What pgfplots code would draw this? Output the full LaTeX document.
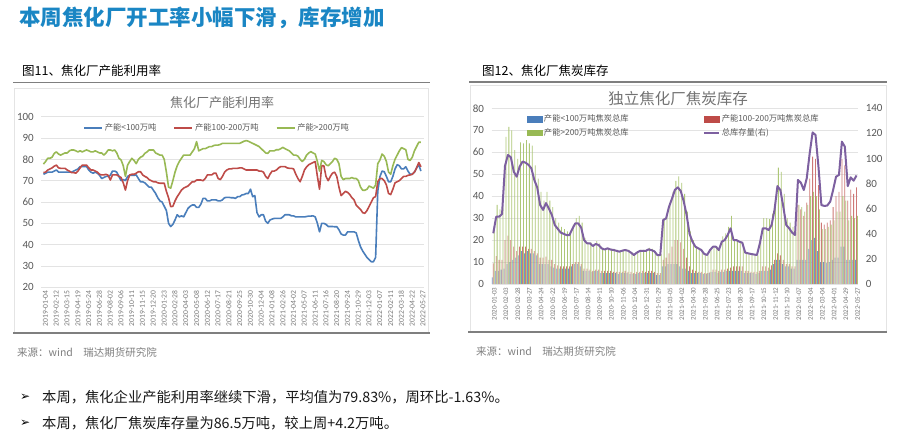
\documentclass[border=0pt]{standalone}
\usepackage{fontspec}
\usepackage{pgfplots}
\usepackage{pgfplotstable}
\pgfplotsset{compat=1.18}
\setmainfont{Carlito}
\newfontfamily\cjk{Noto Sans CJK SC}
\newfontfamily\dejavu{DejaVu Sans}
\definecolor{titleblue}{HTML}{1A86C4}
\definecolor{blueL}{HTML}{4A7EBB}
\definecolor{redL}{HTML}{BE4B48}
\definecolor{greenL}{HTML}{98B954}
\definecolor{purpleL}{HTML}{7D60A0}
\definecolor{gridc}{HTML}{E3E3E3}
\definecolor{labc}{HTML}{595959}
\definecolor{framec}{HTML}{E4E4E4}
\definecolor{rulec}{HTML}{7F7F7F}

\pgfplotstableread{
i b r g
0 73 73.8 77.8
1 73.5 74 79
2 74 75 80.5
3 74 75.5 80.5
4 74 76 81
5 74.5 76.8 82.8
6 75 77.3 83.5
7 74 76 82.5
8 74 75.8 82
9 74 75.8 82.5
10 74 75.8 83
11 74 75 83
12 74 74.5 84
13 74 73.8 84.4
14 74.5 73.8 84.4
15 75 73.5 84
16 75.5 74.5 83.5
17 76.6 76 84
18 76.6 77.3 83.5
19 76.6 77.3 84
20 76.6 77.3 84.4
21 75 76 84
22 74 75 83.5
23 73.5 75 83.5
24 74 74.5 84
25 73.5 74 83.5
26 72.5 73 83
27 71 72.7 83
28 71.5 72.7 82
29 72 73 83
30 72 72.5 84.4
31 72.5 70.3 84.4
32 74.5 72.7 84
33 74.5 72.7 84.4
34 74 72.7 83
35 72 72 80.5
36 70 71.5 79.7
37 70.5 69 77
38 70 65.6 72
39 72 70 77.3
40 72.5 72.7 79
41 72.5 73 80.5
42 72.5 73 79.5
43 72.7 73.5 78
44 71 74.2 80
45 69.5 74.2 81
46 69.5 72.7 81.5
47 69 72 82.8
48 68 71.5 83.5
49 67 70.5 84.4
50 67 70 84.4
51 65.5 69.5 84.4
52 64 69.5 83
53 62 69 82.5
54 60.5 68.8 82
55 60 68.8 82
56 58 68.8 80
57 56 65 74
58 50 62 67
59 48.5 57.8 66.5
60 49.5 58 70
61 51.6 60.5 74
62 54 62.5 77
63 53 64 79
64 53.5 65.6 80.5
65 53 66.5 82
66 55 67 82
67 57 67.5 82
68 58 68.5 82
69 58.6 69.5 83.5
70 58.6 69.5 85
71 57.5 70.3 88.3
72 57.5 70.3 84
73 59 70.3 84.5
74 61.7 70 85
75 61.7 71 85
76 60.5 72.7 85.5
77 60.5 72.7 86
78 61 72.7 86
79 61 73.5 86.5
80 61 73.5 86.7
81 60.5 71 86.7
82 60.5 70.5 87
83 61 72 87.5
84 62 74 87.5
85 62.2 75 87.5
86 62.2 75.5 87.5
87 62 75.5 87.5
88 62 75.8 87.5
89 61.7 75.8 87.5
90 62.5 75.8 87.5
91 62.5 76 87.5
92 63.3 76 88
93 63.5 75.5 88.5
94 64 75 88.8
95 64 75 88.5
96 66 75 88
97 62.5 75 87.5
98 63 75 87
99 55 75 86.5
100 53 74.5 86
101 54 74.5 85
102 54 74 84
103 51 72 83
104 50 71 82.8
105 51.5 73 84
106 52 74.5 84
107 52.3 74.5 84
108 52.3 75 84.5
109 52.3 76 84.5
110 52.3 76.6 85
111 53 76.6 85.6
112 54 76.6 85
113 54 76 84.5
114 54 75.8 84
115 53.5 75.8 83
116 53.5 75.5 82
117 53 73 82
118 53 71 81.5
119 53 69.5 80
120 53 72 79
121 53 75 80
122 53.2 76.5 82
123 53.4 77.5 83
124 53.4 78 83.6
125 53.5 78.5 83
126 53 79 82.5
127 50 72 79
128 46 66 74.5
129 50 77 79.5
130 50 77 79
131 49.5 72 77.5
132 48.5 70 77
133 48.5 72 78
134 48.5 73.5 79
135 48.4 74 80.5
136 48.4 72 80
137 47 67 78
138 45 63 72
139 44.5 64 70.5
140 44.5 65 71
141 46 64.5 71
142 46 63.5 71
143 46 62 71.5
144 46 61 71
145 45.5 58.5 71
146 42 57.5 70
147 39 56.5 67
148 37 55 65.5
149 35.5 54.7 65.5
150 34 56 66
151 33 58 67.5
152 32 60 67
153 32 62 66.5
154 34 62.5 68
155 65 69.5 78
156 71.9 71 79.7
157 74.5 71 82.5
158 74.2 70 81.5
159 72 68 79
160 69.5 64 74
161 69.5 63.5 73
162 72 66 77
163 75.5 69 80
164 77.5 69.5 82
165 77 70 84
166 75.5 71 85.5
167 75.5 72 85
168 76.5 72 84.5
169 74.5 72.5 80
170 73 72.7 79.5
171 73 73 81
172 74 74 84
173 76 76 86
174 77.5 78.5 88
175 74.5 76.5 88
}\lefttab

\pgfplotstableread{
i b r g t
0 3 9.4 24.6 40.4
1 6 12.7 36 53.6
2 6 11 34 53.6
3 6.5 11 35 55.8
4 7 20 67 94
5 9 22 71.5 102.8
6 10 20 70 101
7 11 17 61 89.5
8 12 15 57 85.5
9 13 17 64.5 93.5
10 15 17 64 97.5
11 14 17 65.5 96.7
12 15 16 64 95
13 14 16 63 92.2
14 14 15 54 82.9
15 13 14 48 77
16 9 12 42 63
17 9 12 38 59
18 9 12.5 42 64.5
19 9 11 38 60
20 8 11 35 55
21 7.5 9 30 47
22 7 8.5 28 44
23 7 8 26 41
24 7 8 25 40
25 7 8 24 39
26 7 8 23.5 39
27 8 9 27 44
28 9 10 30 48.3
29 9 10 31 48.3
30 8 9 28 45
31 6 7 21 35
32 6 7 19 32.4
33 6 6.5 19 32.4
34 5.5 6 18 30.3
35 6 6.5 19.5 31.9
36 6 6.5 18.5 31
37 5 6 16.5 28.4
38 5 6 16 27.5
39 5 6 16.5 28.4
40 5 6 16 27.5
41 5 5.5 16 27.1
42 5 5.5 15.5 26.5
43 4.5 5.5 15 25.8
44 5 5.5 15.5 26.5
45 5 6 16 27.1
46 5 5.5 15.5 26.5
47 4.5 5.5 14.5 25
48 4.5 5 13.5 23.1
49 4.5 5.5 14.5 25
50 5 5.5 15.5 26.3
51 5 6 15.5 26.3
52 5 5.5 15.5 26.3
53 5 6 16.5 27.6
54 5 6 16 27
55 5 5.5 15 26
56 4 5 13.5 23.1
57 4 5 13.5 23.1
58 8 11 30 51
59 8 12 31 52.3
60 9 14 37 61.6
61 9 17 42 68
62 9 20 47 75
63 9 20 49 77
64 8 19 46 74
65 7 16 41 66
66 7 12 33 55
67 6 8 24 40
68 5 6.5 20 33.7
69 5 6 17 29.7
70 5 5.5 16 28.4
71 5 5.5 15.5 27.1
72 4.5 5 13.5 24
73 4.5 5 13 23.1
74 5 5.5 15.5 27.1
75 5.5 6.5 17 29.7
76 5.5 6.5 17 29.7
77 5 6 15.5 27
78 5.5 6.5 21.7 33.7
79 5.5 6.5 23 35
80 6 7 26 39
81 6 7.5 31 44.4
82 6 8 20 35
83 6 8 20 35
84 6 8 19 33.7
85 6 8 18.5 32.9
86 5 6 14 25
87 5 6 13.5 24.4
88 5 5.5 13.5 23.9
89 5 5.5 13 23.5
90 4.5 5.5 13 23.1
91 5 6 21 32.4
92 6 8 30 44.4
93 6 8 30 44.4
94 6 7.5 29.5 43
95 6.5 8.5 32 47
96 9 11 39 59
97 11 14 53 78
98 11 13 51 74.9
99 9 11 41 61.6
100 8 9 30 47
101 8 9 28 44.4
102 7 8 26 41
103 7 8 24 39
104 11 36 36 82.9
105 11 34 35 80.7
106 11 31 33 74.9
107 11 37 36 84.2
108 16 48 40 104
109 20 58 42 120.8
110 21 57 40 118.7
111 15 45 34 93.5
112 10 28 25 62.9
113 10 27 25 62.2
114 9.5 28 26 62.5
115 10 29 27 65.6
116 11 35 29 74.9
117 12 40 33 85.5
118 12 42 33 86.9
119 17 57 40 113.4
120 17 54 38 109.4
121 11 38 29 78
122 11 43 31 85
123 11 41 30 82.3
124 11 44 31 86.5
}\righttab

\begin{document}
\begin{tikzpicture}
\path[use as bounding box] (0pt,0pt) rectangle (900pt,442pt);
\fill[white] (0pt,0pt) rectangle (900pt,442pt);

% slide title
\node[anchor=west, inner sep=0pt] at (19pt,424pt) {\cjk\bfseries\fontsize{21.5}{24}\selectfont\color{titleblue}本周焦化厂开工率小幅下滑，库存增加};

% figure captions
\node[anchor=west, inner sep=0pt] at (22pt,371pt) {\cjk\fontsize{12.5}{14}\selectfont\color{black}图11、焦化厂产能利用率};
\node[anchor=west, inner sep=0pt] at (482pt,371pt) {\cjk\fontsize{12.5}{14}\selectfont\color{black}图12、焦化厂焦炭库存};

% frames
\draw[framec, line width=0.6pt] (14pt,109pt) rectangle (428pt,354pt);
\draw[framec, line width=0.6pt] (470pt,110pt) rectangle (886pt,357pt);
\draw[rulec, line width=1.6pt] (13pt,359.5pt) -- (430pt,359.5pt);
\draw[rulec, line width=1.6pt] (13pt,109pt) -- (430pt,109pt);
\draw[rulec, line width=1.6pt] (469pt,360pt) -- (887pt,360pt);
\draw[rulec, line width=1.6pt] (468pt,110pt) -- (887pt,110pt);

% sources
\node[anchor=west, inner sep=0pt] at (17pt,90pt) {\cjk\fontsize{10.5}{12}\selectfont\color{black!50}来源：wind\hspace{1em}瑞达期货研究院};
\node[anchor=west, inner sep=0pt] at (476pt,91pt) {\cjk\fontsize{10.5}{12}\selectfont\color{black!50}来源：wind\hspace{1em}瑞达期货研究院};

% chart titles
\node[inner sep=0pt] at (222pt,339pt) {\cjk\fontsize{13}{14}\selectfont\color{black!55}焦化厂产能利用率};
\node[inner sep=0pt] at (678pt,343pt) {\cjk\fontsize{15.5}{16}\selectfont\color{black!55}独立焦化厂焦炭库存};

% bullets
\node[anchor=west, inner sep=0pt] at (20pt,45pt) {\dejavu\bfseries\fontsize{12}{12}\selectfont ➢};
\node[anchor=west, inner sep=0pt] at (42pt,45pt) {\cjk\fontsize{14.3}{16}\selectfont\color{black!90}本周，焦化企业产能利用率继续下滑，平均值为79.83\%，周环比-1.63\%。};
\node[anchor=west, inner sep=0pt] at (20pt,19pt) {\dejavu\bfseries\fontsize{12}{12}\selectfont ➢};
\node[anchor=west, inner sep=0pt] at (42pt,19pt) {\cjk\fontsize{14.3}{16}\selectfont\color{black!90}本周，焦化厂焦炭库存量为86.5万吨，较上周+4.2万吨。};

% ---------------- left chart ----------------
\begin{axis}[
  at={(41.3pt,154.7pt)}, anchor=south west,
  scale only axis, width=382.2pt, height=170.6pt,
  xmin=-1, xmax=176.2, ymin=20, ymax=100,
  ytick={20,30,...,100},
  xtick={0,5,...,175},
  xticklabels={2019-01-04,2019-02-12,2019-03-15,2019-04-19,2019-05-24,2019-06-28,2019-08-02,2019-09-06,2019-10-11,2019-11-15,2019-12-20,2020-01-23,2020-02-28,2020-04-03,2020-05-08,2020-06-12,2020-07-17,2020-08-21,2020-09-25,2020-10-30,2020-12-04,2021-01-08,2021-02-26,2021-04-02,2021-05-07,2021-06-11,2021-07-16,2021-08-20,2021-09-24,2021-10-29,2021-12-03,2022-01-07,2022-02-11,2022-03-18,2022-04-22,2022-05-27},
  axis line style={draw=none},
  major tick length=0pt,
  ymajorgrids, grid style={draw=gridc, line width=0.7pt},
  /pgf/number format/assume math mode=true,
  yticklabel style={font=\fontsize{11}{12}\selectfont, text=labc, xshift=-4pt},
  xticklabel style={font=\fontsize{7.6}{8}\selectfont, text=labc!80, rotate=90, anchor=east, yshift=-2pt},
  legend style={at={(0.46,0.934)}, anchor=center, draw=none, fill=none,
    font=\cjk\fontsize{8.3}{10}\selectfont, text=labc, legend columns=3,
    /tikz/every even column/.append style={column sep=15pt}, inner sep=0pt},
  legend cell align=left,
  legend image code/.code={\draw[#1] (0pt,0pt) -- (18pt,0pt);},
]
\addplot[color=blueL, line width=1.6pt, line join=round] table[x=i, y=b] {\lefttab};
\addlegendentry{产能<100万吨}
\addplot[color=redL, line width=1.6pt, line join=round] table[x=i, y=r] {\lefttab};
\addlegendentry{产能100-200万吨}
\addplot[color=greenL, line width=1.6pt, line join=round] table[x=i, y=g] {\lefttab};
\addlegendentry{产能>200万吨}
\end{axis}

% ---------------- right chart: bars ----------------
\begin{axis}[
  at={(491.5pt,158pt)}, anchor=south west,
  scale only axis, width=366.8pt, height=175.7pt,
  xmin=-0.6, xmax=124.6, ymin=0, ymax=80,
  ytick={0,10,...,80},
  xtick={0,4,...,124},
  xticklabels={2020-01-03,2020-02-03,2020-02-28,2020-03-27,2020-04-24,2020-05-22,2020-06-19,2020-07-17,2020-08-14,2020-09-11,2020-10-10,2020-11-06,2020-12-04,2020-12-31,2021-01-29,2021-03-05,2021-04-02,2021-04-30,2021-05-28,2021-06-25,2021-07-23,2021-08-20,2021-09-17,2021-10-15,2021-11-12,2021-12-10,2022-01-07,2022-02-04,2022-03-04,2022-04-01,2022-04-29,2022-05-27},
  axis line style={draw=none},
  major tick length=0pt,
  ymajorgrids, grid style={draw=gridc, line width=0.7pt},
  /pgf/number format/assume math mode=true,
  yticklabel style={font=\fontsize{11}{12}\selectfont, text=labc, xshift=-4pt},
  xticklabel style={font=\fontsize{7}{8}\selectfont, text=labc!80, rotate=90, anchor=east, yshift=-1pt},
  legend style={at={(0.095,0.975)}, anchor=north west, draw=none, fill=none,
    font=\cjk\fontsize{8.3}{10}\selectfont, text=labc, legend columns=2,
    /tikz/every even column/.append style={column sep=72pt}, inner sep=0pt,
    row sep=1pt},
  legend cell align=left,
]
\addplot[ybar, bar width=0.8pt, bar shift=-0.95pt, fill=blueL!80!white, draw=none, forget plot] table[x=i, y=b] {\righttab};
\addplot[ybar, bar width=0.8pt, bar shift=0pt, fill=redL!75!white, draw=none, forget plot] table[x=i, y=r] {\righttab};
\addplot[ybar, bar width=0.8pt, bar shift=0.95pt, fill=greenL!80!white, draw=none, forget plot] table[x=i, y=g] {\righttab};
\addlegendimage{legend image code/.code={\fill[blueL] (0pt,-2.6pt) rectangle (15pt,2.6pt);}}
\addlegendentry{产能<100万吨焦炭总库}
\addlegendimage{legend image code/.code={\fill[redL] (0pt,-2.6pt) rectangle (15pt,2.6pt);}}
\addlegendentry{产能100-200万吨焦炭总库}
\addlegendimage{legend image code/.code={\fill[greenL] (0pt,-2.6pt) rectangle (15pt,2.6pt);}}
\addlegendentry{产能>200万吨焦炭总库}
\addlegendimage{legend image code/.code={\draw[purpleL, line width=2pt] (0pt,0pt) -- (15pt,0pt);}}
\addlegendentry{总库存量(右)}
\end{axis}

% ---------------- right chart: total line ----------------
\begin{axis}[
  at={(491.5pt,158pt)}, anchor=south west,
  scale only axis, width=366.8pt, height=175.7pt,
  xmin=-0.6, xmax=124.6, ymin=0, ymax=140,
  ytick={0,20,...,140},
  axis x line=none,
  axis y line*=right,
  axis line style={draw=none},
  major tick length=0pt,
  /pgf/number format/assume math mode=true,
  yticklabel style={font=\fontsize{11}{12}\selectfont, text=labc, xshift=4pt},
]
\addplot[color=purpleL, line width=2pt, line join=round] table[x=i, y=t] {\righttab};
\end{axis}
\end{tikzpicture}
\end{document}
